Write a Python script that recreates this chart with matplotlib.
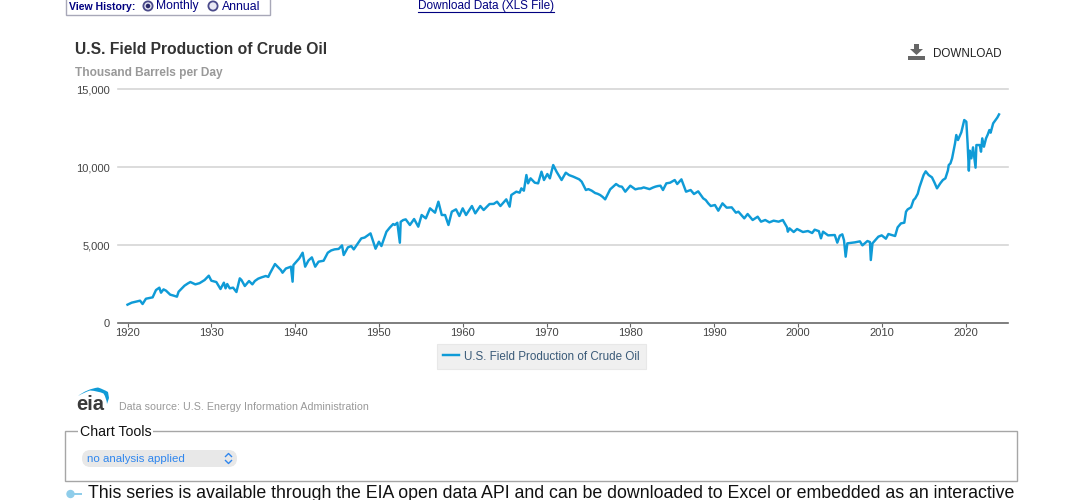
import matplotlib
matplotlib.use("Agg")
import matplotlib.pyplot as plt
from matplotlib.patches import Rectangle, FancyBboxPatch, Circle, Polygon, PathPatch
from matplotlib.path import Path

plt.rcParams['font.family'] = ['Liberation Sans', 'DejaVu Sans']

# ---- data -------------------------------------------------------------
years = [1920.0,1920.5,1921.0,1921.5,1921.8,1922.2,1923.0,1923.4,1923.8,1924.0,1924.6,1925.1,1925.9,1926.1,
         1926.8,1927.5,1928.1,1929.2,1929.7,1930.0,1930.6,1931.1,1931.5,1931.7,1931.9,1932.2,1932.6,1933.0,
         1933.4,1933.6,1934.0,1934.5,1934.9,1936.0,1937.0,1937.6,1938.3,1938.5,1939.5,1939.7,1939.8,1940.5,
         1940.9,1941.2,1942.0,1942.4,1942.8,1943.4,1943.9,1944.7,1945.6,1945.8,1946.3,1946.7,1947.0,1947.9,
         1949.0,1949.6,1950.0,1950.3,1950.9,1951.7,1952.2,1952.5,1952.6,1952.9,1953.2,1953.7,1954.2,1954.7,
         1955.1,1955.6,1956.1,1956.7,1957.1,1957.5,1957.9,1958.3,1958.7,1959.2,1959.6,1960.0,1960.4,1961.1,
         1961.5,1962.1,1962.5,1963.2,1964.1,1964.5,1965.2,1965.6,1965.8,1966.4,1966.8,1967.0,1967.3,1967.6,
         1967.8,1968.1,1968.6,1969.0,1969.4,1969.7,1970.1,1970.4,1970.8,1971.2,1971.8,1972.3,1973.2,1974.2,
         1974.7,1975.4,1976.4,1977.0,1977.6,1978.3,1979.0,1979.4,1980.0,1980.6,1981.3,1982.0,1982.7,1983.3,
         1983.9,1984.3,1984.75,1985.3,1985.6,1986.1,1986.65,1987.2,1987.6,1988.1,1988.7,1989.0,1989.3,1989.6,
         1990.1,1990.5,1991.0,1991.5,1992.1,1992.6,1992.9,1993.6,1994.0,1994.6,1995.2,1995.6,1996.1,1996.6,
         1997.1,1997.7,1998.2,1998.7,1998.8,1999.0,1999.5,1999.9,2000.6,2001.2,2001.7,2002.0,2002.5,2002.75,
         2003.0,2003.6,2004.4,2004.7,2005.0,2005.3,2005.5,2005.7,2005.9,2006.8,2007.4,2007.7,2008.3,2008.6,
         2008.7,2008.9,2009.6,2010.0,2010.5,2010.8,2011.6,2011.9,2012.3,2012.7,2012.9,2013.5,2014.0,2014.5,
         2015.0,2015.25,2015.6,2016.0,2016.6,2017.3,2017.6,2018.0,2018.4,2018.75,2018.9,2019.1,2019.5,2019.85,
         2020.1,2020.25,2020.4,2020.5,2020.7,2020.9,2021.2,2021.3,2021.7,2021.85,2022.0,2022.2,2022.45,2022.85,
         2023.0,2023.3,2024.0]
production = [1177,1306,1370,1434,1220,1560,1648,2118,2268,1947,2076,1819,1690,2011,
              2397,2632,2482,2760,3039,2718,2632,2183,2590,2226,2504,2226,2270,1990,
              2868,2760,2375,2696,2482,2932,3189,3788,3403,3230,3617,2654,3724,4152,
              4515,3617,4216,3617,3940,4000,4515,4729,4986,4366,4860,4943,4729,5436,
              5757,4772,5222,4943,5864,6356,6441,5157,6500,6613,6658,6295,6680,6187,
              6937,6723,7365,7087,7793,6937,6937,6295,7151,7301,6873,7365,6937,7515,
              7044,7515,7258,7643,7793,7515,7943,7472,8222,8436,8372,8650,8500,9506,
              8971,9292,9014,8971,9720,9185,9570,9292,10148,9720,9185,9656,9400,9078,
              8543,8500,8222,7943,8586,8928,8757,8436,8821,8586,8650,8650,8700,8800,
              8543,8971,9013,9185,8928,9228,8436,8543,8286,8457,8007,7900,7686,7515,
              7579,7215,7686,7408,7429,7087,7151,6723,7001,6616,6830,6509,6616,6466,
              6573,6509,6616,6145,5866,6080,5845,6038,5845,5909,5781,5995,5900,5438,
              5866,5630,5652,5160,5610,5695,5320,4260,5117,5181,5245,4988,5267,5200,
              4046,5117,5545,5630,5416,5716,5588,6144,6400,6444,7151,7429,8007,8714,
              9506,9742,9506,9356,8650,9185,9292,10148,10577,11540,12075,11754,12247,13039,
              12932,11540,9785,11070,10577,11283,9977,11433,11433,11005,11861,11326,11861,12396,
              12225,12825,13400]
# further readings along the smoother stretches
years_more = [1924.3,1925.5,1927.2,1928.6,1935.2,1935.6,1936.5,1936.8,1938.9,1941.6,1944.3,1945.2,1948.3,1948.7,
              1951.3,1951.9,1963.7,1972.7,1973.6,1973.9,1975.0,1975.8,1976.1,1976.7,1978.7,1980.3,1981.0,
              1981.6,1982.3,1983.0,1983.6,2013.1,2013.8,2014.3,2016.3,2017.0,2017.9,2018.2,2022.65,2023.6,2023.8]
production_more = [2160,1760,2540,2560,2700,2850,3020,2960,3500,4020,4660,4760,5490,5640,
                   6130,6300,7650,9500,9300,9230,8600,8350,8300,8100,8780,8700,8640,
                   8710,8600,8760,8820,7300,7900,8300,9020,8980,9800,10250,12100,13050,13200]
decades = [1920,1930,1940,1950,1960,1970,1980,1990,2000,2010,2020]
y_ticks = [0,5000,10000,15000]
y_labels = ['0','5,000','10,000','15,000']
series_name = 'U.S. Field Production of Crude Oil'

W, H = 1083, 500
fig = plt.figure(figsize=(W/100, H/100), dpi=100, facecolor='white')

# ---- chart axes --------------------------------------------------------
L, R, T, B = 118, 1008, 89.5, 323
ax = fig.add_axes([L/W, 1-B/H, (R-L)/W, (B-T)/H], zorder=2)
ax.set_facecolor('none')
px_per_year = 8.38
ax.set_xlim(1920-(127.5-L)/px_per_year, 1920+(R-127.5)/px_per_year)
ax.set_ylim(0, 15000)
for s in ['top','left','right']:
    ax.spines[s].set_visible(False)
ax.spines['bottom'].set_color('#666666')
ax.spines['bottom'].set_linewidth(1.1)
ax.set_xticks(decades)
ax.set_xticklabels([str(d) for d in decades])
ax.set_yticks(y_ticks)
ax.set_yticklabels(y_labels)
ax.tick_params(axis='x', length=3, width=0.8, color='#666666', labelcolor='#444444', labelsize=8.0, pad=0.3)
ax.tick_params(axis='y', length=0, labelcolor='#444444', labelsize=8.0, pad=6)
ax.yaxis.grid(True, color='#d6d6d6', lw=1.2, clip_on=False)
ax.set_axisbelow(True)
merged = sorted(zip(years + years_more, production + production_more))
line, = ax.plot([m[0] for m in merged], [m[1] for m in merged], color='#0f9bd7', lw=1.75,
                solid_joinstyle='round', label=series_name, zorder=3)
leg = ax.legend(handles=[line], loc='center', bbox_to_anchor=(541.5/W, 1-356.5/H), bbox_transform=fig.transFigure,
                fancybox=False, facecolor='#f0f0f0', edgecolor='#e8e8e8', framealpha=1, fontsize=8.4,
                handlelength=1.3, handletextpad=0.45, borderpad=0.55, labelcolor='#3a5a78')
leg.get_frame().set_linewidth(0.8)

# ---- page furniture, in pixel coordinates --------------------------------
ov = fig.add_axes([0, 0, 1, 1], zorder=1)
ov.set_xlim(0, W); ov.set_ylim(H, 0); ov.axis('off')

# view-history box
ov.add_patch(Rectangle((66,-2), 204, 17, fc='white', ec='#a8a8b8', lw=1))
ov.text(69, 6.5, 'View History:', fontsize=7.6, fontweight='bold', color='#000080', va='center')
for cx, filled in [(148,True),(213,False)]:
    ov.add_patch(Circle((cx,6), 4.6, fc='#e8e8f4', ec='#4a4a8a', lw=1.3))
    if filled:
        ov.add_patch(Circle((cx,6), 2.3, fc='#2a2a6a', ec='none'))
ov.text(156, 6.5, 'Monthly', fontsize=8.7, color='#000080', va='center')
ov.text(222, 6.5, 'Annual', fontsize=8.8, color='#000080', va='center')
ov.text(418, 6.5, 'Download Data (XLS File)', fontsize=8.45, color='#000080', va='center')
ov.plot([418,554],[12,12], color='#000080', lw=0.8)

# titles
ov.text(75, 50, series_name, fontsize=11.25, fontweight='bold', color='#333333', va='center')
ov.text(75, 72.7, 'Thousand Barrels per Day', fontsize=8.6, fontweight='bold', color='#999999', va='center')

# download icon
ov.add_patch(Polygon([(914,44),(919,44),(919,49),(923,49),(916.5,55),(910,49),(914,49)], fc='#666666', ec='none'))
ov.add_patch(Rectangle((907.5,55.5), 17.5, 4, fc='#666666', ec='none'))
ov.text(933, 53.7, 'DOWNLOAD', fontsize=8.4, color='#222222', va='center')

# eia logo
ov.text(76.5, 404, 'eia', fontsize=14.5, fontweight='bold', color='#3a3a3a', va='center')
arc = Path([(78,396),(87,389),(98,387.5),(104,389.5),(108,392),(109,398),(107,404),
            (106.5,398),(103.5,393.5),(98,391),(90,390.5),(84,392.5),(78,396)],
           [Path.MOVETO,Path.CURVE3,Path.CURVE3,Path.CURVE3,Path.CURVE3,Path.LINETO,Path.LINETO,
            Path.CURVE3,Path.CURVE3,Path.CURVE3,Path.CURVE3,Path.CURVE3,Path.CURVE3])
ov.add_patch(PathPatch(arc, fc='#0f9bd7', ec='none'))
ov.text(119, 407.5, 'Data source: U.S. Energy Information Administration', fontsize=7.7, color='#999999', va='center')

# chart tools fieldset
ov.add_patch(Rectangle((65,431), 952, 50, fc='none', ec='#a6a6a6', lw=1.0))
ov.text(80, 431.5, 'Chart Tools', fontsize=10.2, color='#111111', va='center',
        bbox=dict(fc='white', ec='none', pad=1.2))
ov.add_patch(FancyBboxPatch((82,450), 155, 17, boxstyle='round,pad=0,rounding_size=8.5', fc='#e8e8e8', ec='none'))
ov.text(87, 459, 'no analysis applied', fontsize=8.25, color='#2f86ee', va='center')
ov.plot([225.5,228.5,231.5],[456.5,453.5,456.5], color='#2f86ee', lw=1)
ov.plot([225.5,228.5,231.5],[460.5,463.5,460.5], color='#2f86ee', lw=1)

# key icon and footer sentence
ov.add_patch(Circle((70.5,494), 4.2, fc='#8fcdea', ec='none'))
ov.add_patch(Rectangle((73,492.6), 8.5, 2.8, fc='#8fcdea', ec='none'))
ov.text(88, 493.2, 'This series is available through the EIA open data API and can be downloaded to Excel or embedded as an interactive',
        fontsize=12.77, color='#111111', va='center')

fig.savefig('out.png', dpi=100, facecolor='white')
